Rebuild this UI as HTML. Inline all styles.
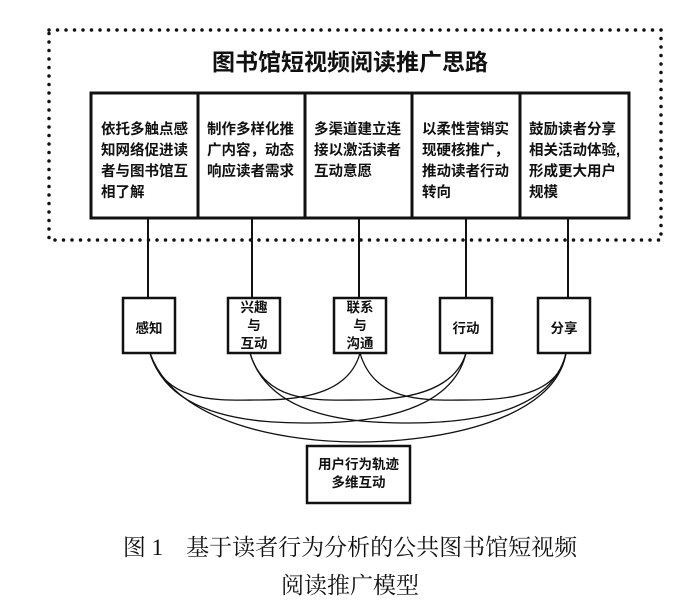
<!DOCTYPE html>
<html><head><meta charset="utf-8"><style>
html,body{margin:0;padding:0;background:#fff;}
body{width:700px;height:608px;position:relative;overflow:hidden;font-family:"Liberation Sans","Noto Sans CJK SC",sans-serif;}
.t{position:absolute;font-weight:bold;color:#111;}
.b{font-size:14.5px;line-height:21px;width:96px;white-space:nowrap;}
</style></head><body>
<svg width="700" height="608" style="position:absolute;left:0;top:0">
<rect x="49" y="30" width="612" height="210" fill="none" stroke="#111" stroke-width="3.5" stroke-dasharray="0 8.5" stroke-linecap="round"/>
<rect x="91" y="93" width="538" height="125" fill="#fff" stroke="#111" stroke-width="3"/>
<g stroke="#111" stroke-width="3"><line x1="198" y1="93" x2="198" y2="218"/><line x1="305" y1="93" x2="305" y2="218"/><line x1="412" y1="93" x2="412" y2="218"/><line x1="520" y1="93" x2="520" y2="218"/></g>
<g stroke="#111" stroke-width="2"><line x1="148" y1="218" x2="148" y2="298"/><line x1="252" y1="218" x2="252" y2="298"/><line x1="359" y1="218" x2="359" y2="298"/><line x1="466" y1="218" x2="466" y2="298"/><line x1="568" y1="218" x2="568" y2="298"/></g>
<g fill="#fff" stroke="#111" stroke-width="2.5">
<rect x="123" y="298" width="52" height="55"/><rect x="228" y="298" width="52" height="55"/><rect x="334" y="298" width="52" height="55"/><rect x="440" y="298" width="52" height="55"/><rect x="538" y="298" width="52" height="55"/>
<rect x="307" y="446" width="103" height="57"/></g>
<g fill="none" stroke="#111" stroke-width="1.3">
<path d="M150 353 C165 405 220 400 260 400 C310 400 350 390 360 353"/>
<path d="M250 353 C265 405 320 400 360 400 C410 400 455 390 466 353"/>
<path d="M360 353 C375 405 430 400 470 400 C520 400 560 390 566 353"/>
<path d="M150 353 C170 420 260 423 310 423 C400 423 455 400 466 353"/>
<path d="M250 353 C270 420 360 423 410 423 C500 423 555 400 566 353"/>
<path d="M150 353 C175 425 290 442 358 442 C440 442 555 420 566 353"/>
</g>
</svg>
<div class="t" style="left:0;width:700px;top:43px;text-align:center;font-size:23px">图书馆短视频阅读推广思路</div>
<div class="t b" style="left:101px;top:120px">依托多触点感<br>知网络促进读<br>者与图书馆互<br>相了解</div>
<div class="t b" style="left:207px;top:120px">制作多样化推<br>广内容，动态<br>响应读者需求</div>
<div class="t b" style="left:314px;top:120px">多渠道建立连<br>接以激活读者<br>互动意愿</div>
<div class="t b" style="left:422px;top:120px">以柔性营销实<br>现硬核推广，<br>推动读者行动<br>转向</div>
<div class="t b" style="left:529px;top:120px">鼓励读者分享<br>相关活动体验,<br>形成更大用户<br>规模</div>
<div class="t" style="left:123px;width:52px;top:317px;text-align:center;font-size:13.5px">感知</div>
<div class="t" style="left:228px;width:52px;top:299px;text-align:center;font-size:13.5px;line-height:18px">兴趣<br>与<br>互动</div>
<div class="t" style="left:334px;width:52px;top:299px;text-align:center;font-size:13.5px;line-height:18px">联系<br>与<br>沟通</div>
<div class="t" style="left:440px;width:52px;top:317px;text-align:center;font-size:13.5px">行动</div>
<div class="t" style="left:538px;width:52px;top:317px;text-align:center;font-size:13.5px">分享</div>
<div class="t" style="left:307px;width:103px;top:456px;text-align:center;font-size:13.5px;line-height:18px">用户行为轨迹<br>多维互动</div>
<div style="position:absolute;left:0;width:700px;top:529px;text-align:center;font-family:'Liberation Serif','Noto Serif CJK SC',serif;font-size:23px;color:#111">图 1　基于读者行为分析的公共图书馆短视频</div>
<div style="position:absolute;left:0;width:700px;top:567px;text-align:center;font-family:'Liberation Serif','Noto Serif CJK SC',serif;font-size:23px;color:#111">阅读推广模型</div>
</body></html>
